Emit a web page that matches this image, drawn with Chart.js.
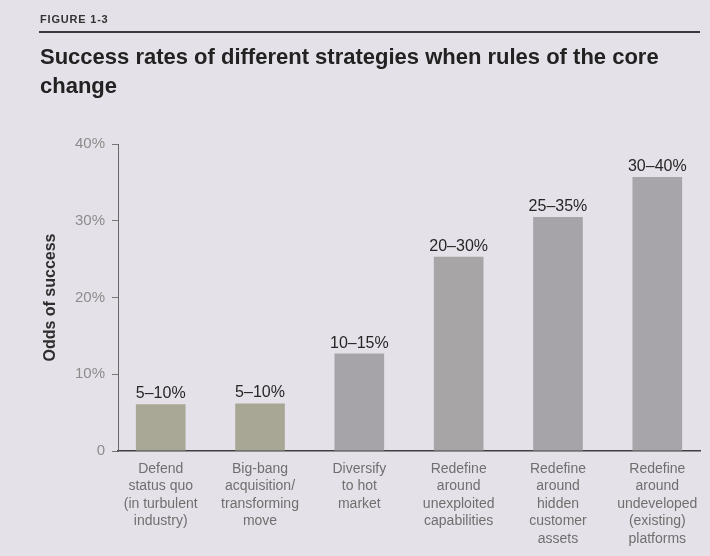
<!DOCTYPE html>
<html>
<head>
<meta charset="utf-8">
<script src="https://cdn.jsdelivr.net/npm/chart.js@4/dist/chart.umd.min.js"></script>
<style>
  html, body { margin: 0; padding: 0; background: #e5e1e8; }
  body { width: 710px; height: 556px; position: relative; overflow: hidden; font-family: "Liberation Sans", Arial, sans-serif; }
  #fig { position: absolute; left: 40px; top: 13px; font-size: 11px; font-weight: bold; letter-spacing: 0.8px; color: #333; }
  #rule { position: absolute; left: 39px; top: 31px; width: 661px; height: 2px; background: #3a3a3a; }
  #title { position: absolute; left: 40px; top: 42px; font-size: 22px; font-weight: bold; line-height: 29px; color: #222; white-space: nowrap; }
  #c { position: absolute; left: 0; top: 0; }
</style>
</head>
<body>
<canvas id="c" width="710" height="556"></canvas>
<div id="fig">FIGURE 1-3</div>
<div id="rule"></div>
<div id="title">Success rates of different strategies when rules of the core<br>change</div>
<script>
const categories = [
  ["Defend", "status quo", "(in turbulent", "industry)"],
  ["Big-bang", "acquisition/", "transforming", "move"],
  ["Diversify", "to hot", "market"],
  ["Redefine", "around", "unexploited", "capabilities"],
  ["Redefine", "around", "hidden", "customer", "assets"],
  ["Redefine", "around", "undeveloped", "(existing)", "platforms"]
];
const oddsValues = [6.1, 6.2, 12.7, 25.3, 30.5, 35.7];
const rangeLabels = ["5–10%", "5–10%", "10–15%", "20–30%", "25–35%", "30–40%"];
const yTicks = [0, 10, 20, 30, 40];
const barColors = ["#a9a796", "#a8a796", "#a6a4a8", "#a7a5a6", "#a6a4a9", "#a7a5a9"];

const labelPlugin = {
  id: 'rangeLabels',
  afterDatasetsDraw(chart) {
    const ctx = chart.ctx;
    const meta = chart.getDatasetMeta(0);
    ctx.save();
    ctx.font = '16px "Liberation Sans", Arial, sans-serif';
    ctx.fillStyle = '#262626';
    ctx.textAlign = 'center';
    ctx.textBaseline = 'alphabetic';
    meta.data.forEach((bar, i) => {
      ctx.fillText(rangeLabels[i], bar.x, bar.y - 6);
    });
    ctx.restore();
  }
};

new Chart(document.getElementById('c'), {
  type: 'bar',
  data: {
    datasets: [{
      data: oddsValues.map((v, i) => ({ x: i, y: v })),
      backgroundColor: barColors,
      borderWidth: 0,
      categoryPercentage: 1,
      barPercentage: 0.5
    }]
  },
  options: {
    responsive: false,
    animation: false,
    layout: { padding: { top: 144, right: 10, left: 0, bottom: 0 } },
    plugins: { legend: { display: false }, tooltip: { enabled: false }, title: { display: false } },
    scales: {
      x: {
        type: 'linear',
        offset: false,
        min: -0.43,
        max: 5.43,
        grid: { display: false, drawTicks: false },
        border: { display: true, color: '#3f3f3f', width: 1.5 },
        afterBuildTicks: (scale) => { scale.ticks = categories.map((_, i) => ({ value: i })); },
        afterFit: (scale) => { scale.height = 105; },
        ticks: {
          autoSkip: false,
          maxRotation: 0,
          minRotation: 0,
          padding: 9,
          color: '#6f6f6f',
          font: { family: '"Liberation Sans", Arial, sans-serif', size: 14, lineHeight: 1.25 },
          callback: (v) => categories[v] || ''
        }
      },
      y: {
        min: 0,
        max: 40,
        afterBuildTicks: (scale) => { scale.ticks = yTicks.map(v => ({ value: v })); },
        afterFit: (scale) => { scale.width = 118; },
        grid: { display: true, drawOnChartArea: false, drawTicks: true, tickLength: 6, color: '#777', lineWidth: 1 },
        border: { display: true, color: '#666', width: 1 },
        ticks: {
          padding: 7,
          color: '#8c8c8c',
          font: { family: '"Liberation Sans", Arial, sans-serif', size: 15 },
          callback: (v) => v === 0 ? '0' : v + '%'
        },
        title: {
          display: true,
          text: 'Odds of success',
          color: '#2e2e2e',
          font: { family: '"Liberation Sans", Arial, sans-serif', size: 16, weight: 'bold' },
          padding: { top: 41, bottom: 0 }
        }
      }
    }
  },
  plugins: [labelPlugin]
});
</script>
</body>
</html>
